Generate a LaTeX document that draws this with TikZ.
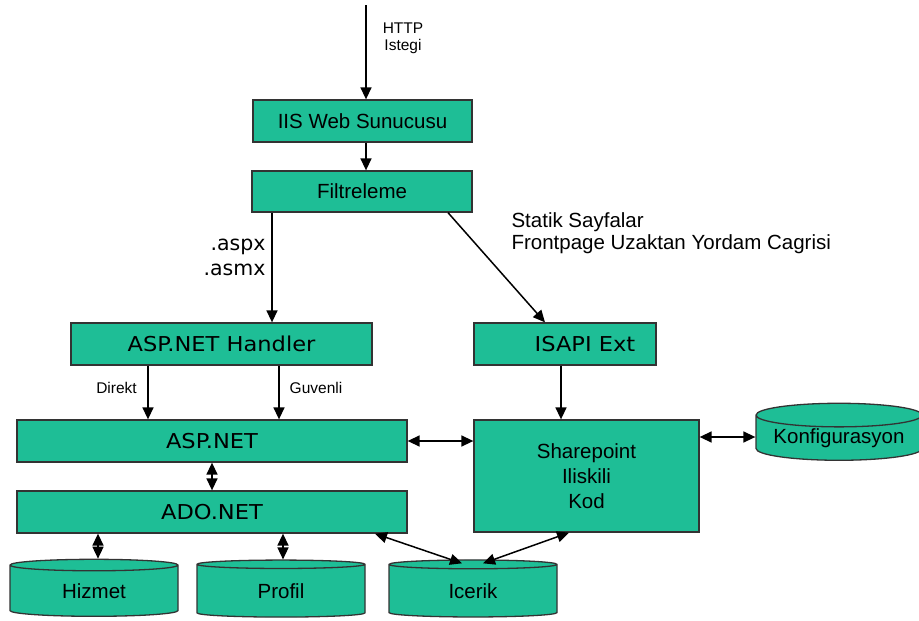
\documentclass[tikz,border=0pt]{standalone}
\usepackage{fontspec}
\setmainfont{Liberation Sans}
\newfontfamily\verafont{DejaVu Sans}
\newfontfamily\verawide[FakeStretch=1.1]{DejaVu Sans}
\usetikzlibrary{arrows.meta}
\usetikzlibrary{shapes.geometric}
\definecolor{boxgreen}{RGB}{30,190,150}
\tikzset{
  box/.style={draw=black!80, line width=1.3pt, fill=boxgreen, inner sep=0pt},
  store/.style={cylinder, shape border rotate=90, aspect=0.18, draw=black!80,
    line width=1.3pt, fill=boxgreen, minimum width=168pt, minimum height=57pt, inner sep=0pt},
  arr/.style={line width=1.5pt, -{Triangle[length=12pt,width=11pt]}},
  biarr/.style={line width=1.5pt, {Triangle[length=12pt,width=11pt]}-{Triangle[length=12pt,width=11pt]}},
  big/.style={font=\fontsize{20.5}{25}\selectfont},
  bigvera/.style={font=\verawide\fontsize{20.5}{25}\selectfont},
  lblvera/.style={font=\verafont\fontsize{20.5}{25}\selectfont},
  small/.style={font=\fontsize{15.5}{17}\selectfont},
}
\begin{document}
\begin{tikzpicture}[x=1pt,y=-1pt]
\useasboundingbox (0,0) rectangle (919,621);

% request path
\coordinate (http) at (366,5);
\node[box, big, minimum width=219pt, minimum height=42pt] (iis) at (362.5,121) {IIS Web Sunucusu};
\node[box, big, minimum width=220pt, minimum height=41pt] (filt) at (362,191.5) {Filtreleme};
\node[box, bigvera, minimum width=301pt, minimum height=42pt] (handler) at (221.5,344) {ASP.NET Handler};
\node[box, bigvera, minimum width=182pt, minimum height=42pt] (isapi) at (565,344) {\hspace*{40pt}ISAPI Ext};
\node[box, bigvera, minimum width=390pt, minimum height=42pt] (asp) at (212,441) {ASP.NET};
\node[box, bigvera, minimum width=390pt, minimum height=42pt] (ado) at (212,512) {ADO.NET};
\node[box, big, align=center, minimum width=225pt, minimum height=112pt] (share) at (586.5,476)
  {Sharepoint\\Iliskili\\Kod\hspace*{0pt}};

% data stores
\node[store, big, minimum width=166pt] (konf) at (839,438) {Konfigurasyon};
\node[store, big] (hizmet) at (94,591) {Hizmet};
\node[store, big] (profil) at (281,591) {Profil};
\node[store, big] (icerik) at (473,591) {Icerik};

% labels
\node[small, align=center] (httplbl) at (403,38.5) {HTTP\\Istegi};
\node[lblvera, anchor=east, align=right] (extlbl) at (269,257) {.aspx\\.asmx};
\node[big, anchor=west, align=left, font=\fontsize{20.5}{22}\selectfont] (statlbl) at (508,233)
  {Statik Sayfalar\\Frontpage Uzaktan Yordam Cagrisi};
\node[small] (dirlbl) at (116.5,388) {Direkt};
\node[small] (guvlbl) at (316,388) {Guvenli};

% connectors
\draw[arr] (http) -- (http |- iis.north);
\draw[arr] (iis.south -| http) -- (filt.north -| http);
\draw[arr] ([xshift=-90pt]filt.south) -- ([xshift=-90pt]filt.south |- handler.north);
\draw[arr] ([xshift=86pt]filt.south) -- ([xshift=-20pt]isapi.north);
\draw[arr] ([xshift=-73.5pt]handler.south) -- ([xshift=-73.5pt]handler.south |- asp.north);
\draw[arr] ([xshift=57.5pt]handler.south) -- ([xshift=57.5pt]handler.south |- asp.north);
\draw[arr] ([xshift=-4pt]isapi.south) -- ([xshift=-4pt]isapi.south |- share.north);
\draw[biarr] (asp.south) -- (ado.north);
\draw[biarr] (asp.east) -- (asp.east -| share.west);
\draw[biarr] ([yshift=39pt]share.east) -- ([yshift=39pt]share.east -| konf.west);
\draw[biarr] ([xshift=4pt]hizmet.north |- ado.south) -- ([xshift=4pt]hizmet.north);
\draw[biarr] ([xshift=2pt]profil.north |- ado.south) -- ([xshift=2pt]profil.north);
\draw[biarr] ([xshift=163pt]ado.south) -- ([xshift=-11pt,yshift=-4pt]icerik.north);
\draw[biarr] ([xshift=-17.5pt]share.south) -- ([xshift=10pt,yshift=-4pt]icerik.north);

\end{tikzpicture}
\end{document}
